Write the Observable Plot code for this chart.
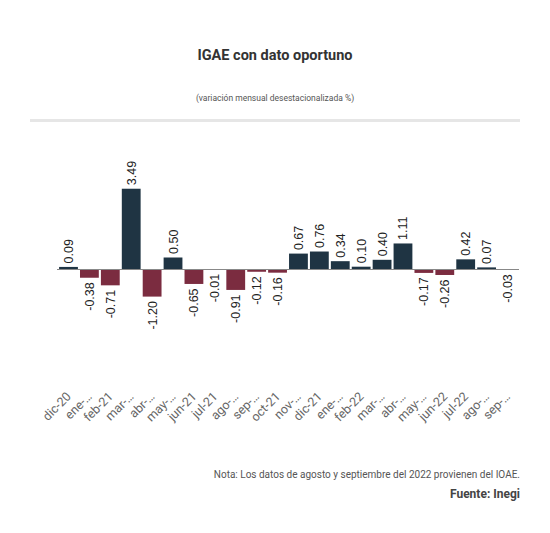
<!DOCTYPE html>
<html>
<head>
<meta charset="utf-8">
<script src="https://cdn.jsdelivr.net/npm/d3@7"></script>
<script src="https://cdn.jsdelivr.net/npm/@observablehq/plot@0.6"></script>
<style>
  html, body { margin: 0; padding: 0; background: #fff; }
  body { width: 550px; height: 533px; position: relative; overflow: hidden; font-family: Roboto, "Liberation Sans", sans-serif; }
  #title { position: absolute; top: 47px; left: 0; width: 550px; text-align: center; font-size: 14.5px; font-weight: 700; color: #333; }
  #subtitle { position: absolute; top: 93px; left: 0; width: 550px; text-align: center; font-size: 8.5px; color: #555; }
  #rule { position: absolute; top: 119px; left: 30px; width: 490px; height: 3px; background: #e6e6e6; }
  #chart { position: absolute; top: 130px; left: 0; }
  #note { position: absolute; top: 469px; right: 30px; font-size: 10px; color: #555; }
  #source { position: absolute; top: 487px; right: 30px; font-size: 12px; font-weight: 700; color: #444; }
</style>
</head>
<body>
<div id="title">IGAE con dato oportuno</div>
<div id="subtitle">(variación mensual desestacionalizada %)</div>
<div id="rule"></div>
<div id="chart"></div>
<div id="note">Nota: Los datos de agosto y septiembre del 2022 provienen del IOAE.</div>
<div id="source">Fuente: Inegi</div>
<script>
const months = ["dic-20","ene-…","feb-21","mar-…","abr-…","may-…","jun-21","jul-21","ago-…","sep-…","oct-21","nov-…","dic-21","ene-…","feb-22","mar-…","abr-…","may-…","jun-22","jul-22","ago-…","sep-…"];
const values = [0.09,-0.38,-0.71,3.49,-1.20,0.50,-0.65,-0.01,-0.91,-0.12,-0.16,0.67,0.76,0.34,0.10,0.40,1.11,-0.17,-0.26,0.42,0.07,-0.03];

const data = values.map((v, i) => ({key: i, label: months[i], value: v}));
const pos = data.filter(d => d.value >= 0);
const neg = data.filter(d => d.value < 0);

const chart = Plot.plot({
  width: 550,
  height: 310,
  marginLeft: 57,
  marginRight: 31,
  marginTop: 47,
  marginBottom: 56,
  x: {domain: data.map(d => d.key), padding: 0.1, round: false, tickFormat: i => months[i], label: null},
  y: {domain: [-5, 4], axis: null},
  color: {domain: ["pos", "neg"], range: ["#1f3443", "#7b2c40"]},
  style: {fontFamily: "Roboto, 'Liberation Sans', sans-serif"},
  marks: [
    Plot.barY(data, {x: "key", y: "value", fill: d => d.value >= 0 ? "pos" : "neg"}),
    Plot.ruleY([0], {stroke: "#888", strokeWidth: 1}),
    Plot.text(pos, {x: "key", y: "value", text: d => d.value.toFixed(2), rotate: -90, textAnchor: "start", dy: -4, fontSize: 12.5, fill: "#222", fontWeight: 500, fontFamily: "'Liberation Sans', Arial, sans-serif"}),
    Plot.text(neg, {x: "key", y: "value", text: d => d.value.toFixed(2), rotate: -90, textAnchor: "end", dy: 4, fontSize: 12.5, fill: "#222", fontWeight: 500, fontFamily: "'Liberation Sans', Arial, sans-serif"}),
    Plot.axisX({tickSize: 0, tickPadding: 10, tickRotate: -45, fontSize: 12.5, color: "#666", tickFormat: i => months[i], label: null})
  ]
});
document.getElementById("chart").appendChild(chart);
</script>
</body>
</html>
